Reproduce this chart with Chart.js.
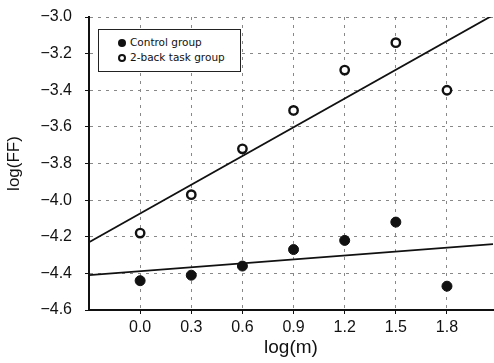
<!DOCTYPE html>
<html><head><meta charset="utf-8">
<script src="https://cdn.jsdelivr.net/npm/chart.js@4/dist/chart.umd.min.js"></script>
<style>
html,body{margin:0;padding:0;background:#fff;}
#wrap{position:relative;width:494px;height:363px;}
#legend{position:absolute;left:98px;top:29px;width:143px;height:43px;border:1.5px solid #222;background:#fff;box-sizing:border-box;font-family:"DejaVu Sans",sans-serif;font-size:10.5px;color:#111;padding:5px 0 0 19px;line-height:15px;}
.dot{display:inline-block;width:8px;height:8px;border-radius:50%;margin-right:4px;vertical-align:-0.5px;box-sizing:border-box;}
.f{background:#111;}
.o{border:2px solid #111;background:#fff;}
</style></head>
<body><div id="wrap"><canvas id="c" width="494" height="363"></canvas>
<div id="legend"><div><span class="dot f"></span>Control group</div><div><span class="dot o"></span>2-back task group</div></div></div>
<script>
const xValues = [0.0, 0.3, 0.6, 0.9, 1.2, 1.5, 1.8];
const controlValues = [-4.44, -4.41, -4.36, -4.27, -4.22, -4.12, -4.47];
const twoBackValues = [-4.18, -3.97, -3.72, -3.51, -3.29, -3.14, -3.40];
const fitX = [-0.3, 2.07];
const controlFit = [-4.41, -4.24];
const twoBackFit = [-4.23, -2.99];
const xTicks = [0.0, 0.3, 0.6, 0.9, 1.2, 1.5, 1.8];
const yTicks = [-3.0, -3.2, -3.4, -3.6, -3.8, -4.0, -4.2, -4.4, -4.6];

const pts = (xs, ys) => xs.map((x, i) => ({x: x, y: ys[i]}));
const fam = "'Liberation Sans', Arial, sans-serif";

new Chart(document.getElementById('c'), {
  type: 'scatter',
  data: {datasets: [
    {label: 'Control group', data: pts(xValues, controlValues), pointRadius: 5, backgroundColor: '#111', borderColor: '#111', borderWidth: 1},
    {label: '2-back task group', data: pts(xValues, twoBackValues), pointRadius: 4.2, backgroundColor: '#fff', borderColor: '#111', borderWidth: 2.4},
    {type: 'line', label: 'fit1', data: pts(fitX, controlFit), borderColor: '#111', borderWidth: 1.8, pointRadius: 0, fill: false},
    {type: 'line', label: 'fit2', data: pts(fitX, twoBackFit), borderColor: '#111', borderWidth: 1.8, pointRadius: 0, fill: false}
  ]},
  options: {
    responsive: false, animation: false,
    layout: {autoPadding: false, padding: {top: 17, right: 1, left: 0, bottom: 0}},
    plugins: {legend: {display: false}, tooltip: {enabled: false}},
    scales: {
      x: {type: 'linear', min: -0.3, max: 2.07,
        afterBuildTicks: s => { s.ticks = xTicks.map(v => ({value: v})); },
        afterFit: s => { s.height = 53; s.paddingLeft = 0; s.paddingRight = 0; },
        ticks: {color: '#111', font: {family: fam, size: 16}, padding: 4, callback: v => v.toFixed(1)},
        grid: {color: '#888', lineWidth: 1, tickLength: 4, tickColor: '#111'},
        border: {display: true, color: '#111', width: 2, dash: [3, 5]},
        title: {display: true, text: 'log(m)', color: '#111', font: {family: fam, size: 19}, padding: {top: 0}}
      },
      y: {type: 'linear', min: -4.6, max: -3.0,
        afterBuildTicks: s => { s.ticks = yTicks.map(v => ({value: v})); },
        afterFit: s => { s.width = 89; s.paddingTop = 0; s.paddingBottom = 0; },
        ticks: {color: '#111', font: {family: fam, size: 16}, padding: 13, callback: v => (v < 0 ? '\u2212' : '') + Math.abs(v).toFixed(1)},
        grid: {color: '#888', lineWidth: 1, tickLength: 4, tickColor: '#111'},
        border: {display: true, color: '#111', width: 2, dash: [3, 5]},
        title: {display: true, text: 'log(FF)', color: '#111', font: {family: fam, size: 17}, padding: {bottom: 0}}
      }
    }
  }
});
</script></body></html>
